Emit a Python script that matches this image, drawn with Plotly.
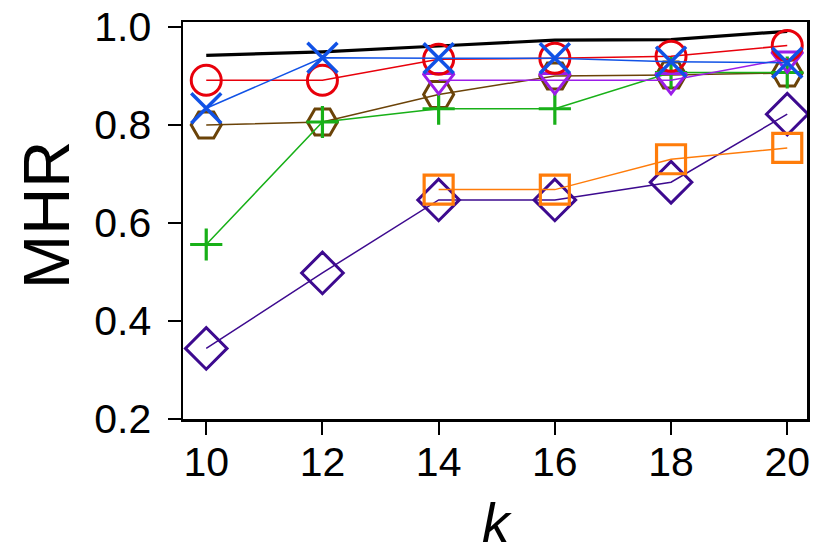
import plotly.graph_objects as go

k_values = [10, 12, 14, 16, 18, 20]

black_line = [0.942, 0.949, 0.961, 0.973, 0.974, 0.991]
indigo_diamond = [0.344, 0.498, 0.647, 0.647, 0.683, 0.822]
orange_square = [None, None, 0.668, 0.668, 0.730, 0.753]
brown_hexagon = [0.800, 0.806, 0.862, 0.900, 0.902, 0.906]
green_plus = [0.556, 0.806, 0.833, 0.833, 0.907, 0.907]
purple_triangle = [None, None, 0.891, 0.891, 0.891, 0.935]
red_circle = [0.891, 0.891, 0.934, 0.936, 0.940, 0.962]
blue_x = [0.834, 0.937, 0.936, 0.936, 0.929, 0.927]

y_ticks = [0.2, 0.4, 0.6, 0.8, 1.0]
x_ticks = [10, 12, 14, 16, 18, 20]

FONT = "Liberation Sans, Arial, Helvetica, sans-serif"

fig = go.Figure()

fig.add_trace(go.Scatter(x=k_values, y=black_line, mode="lines",
                         line=dict(color="black", width=3.2), showlegend=False))

series = [
    (indigo_diamond, "#3d0a8f", "diamond-open", 32, 3),
    (orange_square, "#ff7c0a", "square-open", 29, 3.2),
    (brown_hexagon, "#6b4308", "hexagon2-open", 30, 3),
    (green_plus, "#18b018", "cross-thin", 23, 3.2),
    (purple_triangle, "#9b1de8", "triangle-down-open", 27, 3),
    (red_circle, "#e8000b", "circle-open", 30, 3),
    (blue_x, "#1152e6", "x-thin", 30, 3.5),
]

for vals, color, sym, size, lw in series:
    fig.add_trace(go.Scatter(
        x=k_values, y=vals, mode="lines+markers",
        line=dict(color=color, width=1.5),
        marker=dict(symbol=sym, size=size, color=color,
                    line=dict(color=color, width=lw)),
        showlegend=False,
    ))

fig.update_layout(
    width=830, height=554,
    margin=dict(l=183, r=23, t=22, b=135, autoexpand=False),
    paper_bgcolor="white", plot_bgcolor="white",
    font=dict(family=FONT, color="black", size=41),
    annotations=[
        dict(text="MHR", textangle=-90, xref="paper", yref="paper",
             x=-0.218, y=0.514, xanchor="center", yanchor="middle",
             showarrow=False, font=dict(size=65, family=FONT, color="black")),
        dict(text="<i>k</i>", xref="paper", yref="paper",
             x=0.503, y=-0.262, xanchor="center", yanchor="middle",
             showarrow=False, font=dict(size=55, family=FONT, color="black")),
    ],
)

fig.update_xaxes(
    range=[9.6, 20.34], tickvals=x_ticks, ticktext=[str(v) for v in x_ticks],
    ticks="outside", ticklen=13, tickwidth=2, tickcolor="black",
    showline=True, linewidth=2.5, linecolor="black", mirror=True,
    showgrid=False, zeroline=False, automargin=False,
    tickfont=dict(size=41, family=FONT), ticklabelstandoff=-8,
    ticklabeloverflow="allow",
)
fig.update_yaxes(
    range=[0.2, 1.01], tickvals=y_ticks, ticktext=[f"{v:.1f}" for v in y_ticks],
    ticks="outside", ticklen=13, tickwidth=2, tickcolor="black",
    showline=True, linewidth=2.5, linecolor="black", mirror=True,
    showgrid=False, zeroline=False, automargin=False,
    tickfont=dict(size=41, family=FONT), ticklabelstandoff=8,
    ticklabeloverflow="allow",
)

fig.write_html(
    "out.html",
    config={"displayModeBar": False, "staticPlot": True},
    post_script="document.body.style.margin='0';document.body.style.overflow='hidden';",
)
